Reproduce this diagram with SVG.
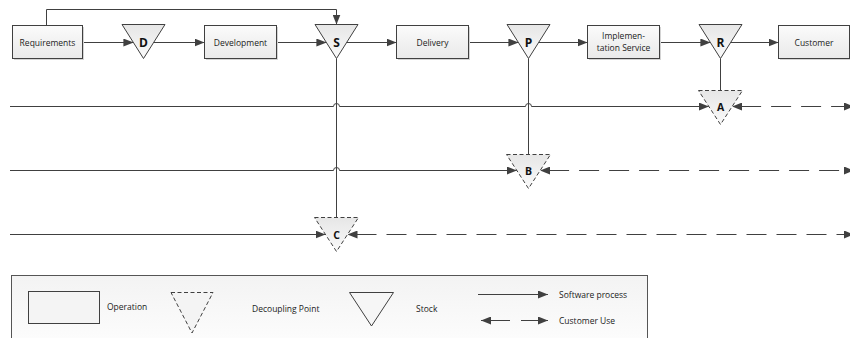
<svg xmlns="http://www.w3.org/2000/svg" width="850" height="338" viewBox="0 0 850 338">
<defs>
<linearGradient id="gBox" x1="0" y1="0" x2="0" y2="1"><stop offset="0" stop-color="#fbfbfb"/><stop offset="1" stop-color="#e9e9e9"/></linearGradient>
<linearGradient id="gTri" x1="0" y1="0" x2="0" y2="1"><stop offset="0" stop-color="#e6e6e6"/><stop offset="1" stop-color="#fafafa"/></linearGradient>
<linearGradient id="gLeg" x1="0" y1="0" x2="0" y2="1"><stop offset="0" stop-color="#f3f3f3"/><stop offset="1" stop-color="#fdfdfd"/></linearGradient>
<marker id="arr" markerUnits="userSpaceOnUse" markerWidth="10" markerHeight="8" refX="10" refY="4" orient="auto-start-reverse"><path d="M0,0 L10,4 L0,8 z" fill="#404040"/></marker>
<marker id="arrD" markerUnits="userSpaceOnUse" markerWidth="10" markerHeight="8" refX="1" refY="4" orient="auto-start-reverse"><path d="M0,0 L10,4 L0,8 z" fill="#404040"/></marker>
<marker id="arrE" markerUnits="userSpaceOnUse" markerWidth="10" markerHeight="8" refX="6" refY="4" orient="auto"><path d="M0,0 L10,4 L0,8 z" fill="#404040"/></marker>
</defs>
<style>
.box{fill:url(#gBox);stroke:#404040;stroke-width:1}
.shadow{fill:#d4d4d4}
.stock{fill:url(#gTri);stroke:#404040;stroke-width:1}
.dec{fill:url(#gTri);stroke:#404040;stroke-width:1;stroke-dasharray:4 2.5}
.ln{fill:none;stroke:#404040;stroke-width:1}
.dash{fill:none;stroke:#404040;stroke-width:1;stroke-dasharray:20 10}
.t{font-family:"Open Sans","Noto Sans","DejaVu Sans",sans-serif;font-size:8.5px;fill:#222;text-anchor:middle}
.tl{font-family:"Open Sans","Noto Sans","DejaVu Sans",sans-serif;font-size:8.5px;fill:#222}
.big{font-family:"Open Sans","Noto Sans","DejaVu Sans",sans-serif;font-size:12px;font-weight:bold;fill:#111;text-anchor:middle}
.mid{font-family:"Open Sans","Noto Sans","DejaVu Sans",sans-serif;font-size:10.5px;font-weight:bold;fill:#111;text-anchor:middle}
</style>

<g id="connectors">
<path class="ln" d="M46.5,25.5 V9.5 H336.5 V24.5" marker-end="url(#arr)"/>
<path class="ln" d="M82.5,42.5 H133.4" marker-end="url(#arr)"/>
<path class="ln" d="M153.6,42.5 H204.5" marker-end="url(#arr)"/>
<path class="ln" d="M276.5,42.5 H326.4" marker-end="url(#arr)"/>
<path class="ln" d="M346.6,42.5 H396.5" marker-end="url(#arr)"/>
<path class="ln" d="M468.5,42.5 H518.4" marker-end="url(#arr)"/>
<path class="ln" d="M538.6,42.5 H587.5" marker-end="url(#arr)"/>
<path class="ln" d="M659.5,42.5 H710.4" marker-end="url(#arr)"/>
<path class="ln" d="M730.6,42.5 H778.5" marker-end="url(#arr)"/>
<path class="ln" d="M336.5,58.5 V217.5"/>
<path class="ln" d="M528.5,58.5 V154.5"/>
<path class="ln" d="M720.5,58.5 V90.5"/>
<path class="ln" d="M10,106.5 H333.5 A3,3 0 0 1 339.5,106.5 H525.5 A3,3 0 0 1 531.5,106.5 H708.9" marker-end="url(#arr)"/>
<path class="ln" d="M10,170.5 H333.5 A3,3 0 0 1 339.5,170.5 H516.9" marker-end="url(#arr)"/>
<path class="ln" d="M10,234.5 H325.5" marker-end="url(#arr)"/>
<path class="dash" d="M741.1,106.5 H850" marker-start="url(#arrD)" marker-end="url(#arrE)"/>
<path class="dash" d="M549.1,170.5 H850" marker-start="url(#arrD)" marker-end="url(#arrE)"/>
<path class="dash" d="M356.5,234.5 H850" marker-start="url(#arrD)" marker-end="url(#arrE)"/>
</g>

<g id="requirements"><rect class="shadow" x="14" y="27" width="70" height="33"/><rect class="box" x="12.5" y="25.5" width="70" height="33"/><text class="t" x="47.5" y="45.5">Requirements</text></g>
<g id="stock-d"><path class="stock" d="M122,24.5 H165 L143.5,58.5 z"/><text class="big" x="143.5" y="47">D</text></g>
<g id="development"><rect class="shadow" x="206" y="27" width="72" height="33"/><rect class="box" x="204.5" y="25.5" width="72" height="33"/><text class="t" x="240.5" y="45.5">Development</text></g>
<g id="stock-s"><path class="stock" d="M315,24.5 H358 L336.5,58.5 z"/><text class="big" x="336.5" y="47">S</text></g>
<g id="delivery"><rect class="shadow" x="398" y="27" width="72" height="33"/><rect class="box" x="396.5" y="25.5" width="72" height="33"/><text class="t" x="432.5" y="45.5">Delivery</text></g>
<g id="stock-p"><path class="stock" d="M507,24.5 H550 L528.5,58.5 z"/><text class="big" x="528.5" y="47">P</text></g>
<g id="implementation-service"><rect class="shadow" x="589" y="27" width="72" height="33"/><rect class="box" x="587.5" y="25.5" width="72" height="33"/><text class="t" x="623.5" y="39">Implemen-</text><text class="t" x="623.5" y="50.5">tation Service</text></g>
<g id="stock-r"><path class="stock" d="M699,24.5 H742 L720.5,58.5 z"/><text class="big" x="720.5" y="47">R</text></g>
<g id="customer"><rect class="shadow" x="780" y="27" width="71" height="33"/><rect class="box" x="778.5" y="25.5" width="71" height="33"/><text class="t" x="814" y="45.5">Customer</text></g>

<g id="decoupling-a"><path class="dec" d="M698.5,90.5 H742.5 L720.5,124.5 z"/><text class="mid" x="720.5" y="110.5">A</text></g>
<g id="decoupling-b"><path class="dec" d="M506.5,154.5 H550.5 L528.5,188.5 z"/><text class="mid" x="528.5" y="174.5">B</text></g>
<g id="decoupling-c"><path class="dec" d="M314.5,217.5 H358.5 L336.5,251.5 z"/><text class="mid" x="336.5" y="238.5">C</text></g>

<g id="legend">
<rect x="11.5" y="275.5" width="636" height="70" fill="url(#gLeg)" stroke="#555" stroke-width="1"/>
<rect class="box" x="28.5" y="291.5" width="71" height="32" style="fill:#f4f4f4"/>
<text class="tl" x="107" y="310">Operation</text>
<path class="dec" d="M171,292.5 H213 L192,333 z" style="fill:#f4f4f4"/>
<text class="tl" x="252" y="312">Decoupling Point</text>
<path class="stock" d="M349.5,292.5 H393.5 L371.5,326 z" style="fill:#f6f6f6"/>
<text class="tl" x="416" y="312">Stock</text>
<path class="ln" d="M478,294.5 H548" marker-end="url(#arr)"/>
<text class="tl" x="559" y="297.5">Software process</text>
<path class="ln" d="M481,320.5 H548" style="stroke-dasharray:29 11 40" marker-start="url(#arr)" marker-end="url(#arr)"/>
<text class="tl" x="559" y="324">Customer Use</text>
</g>
</svg>
